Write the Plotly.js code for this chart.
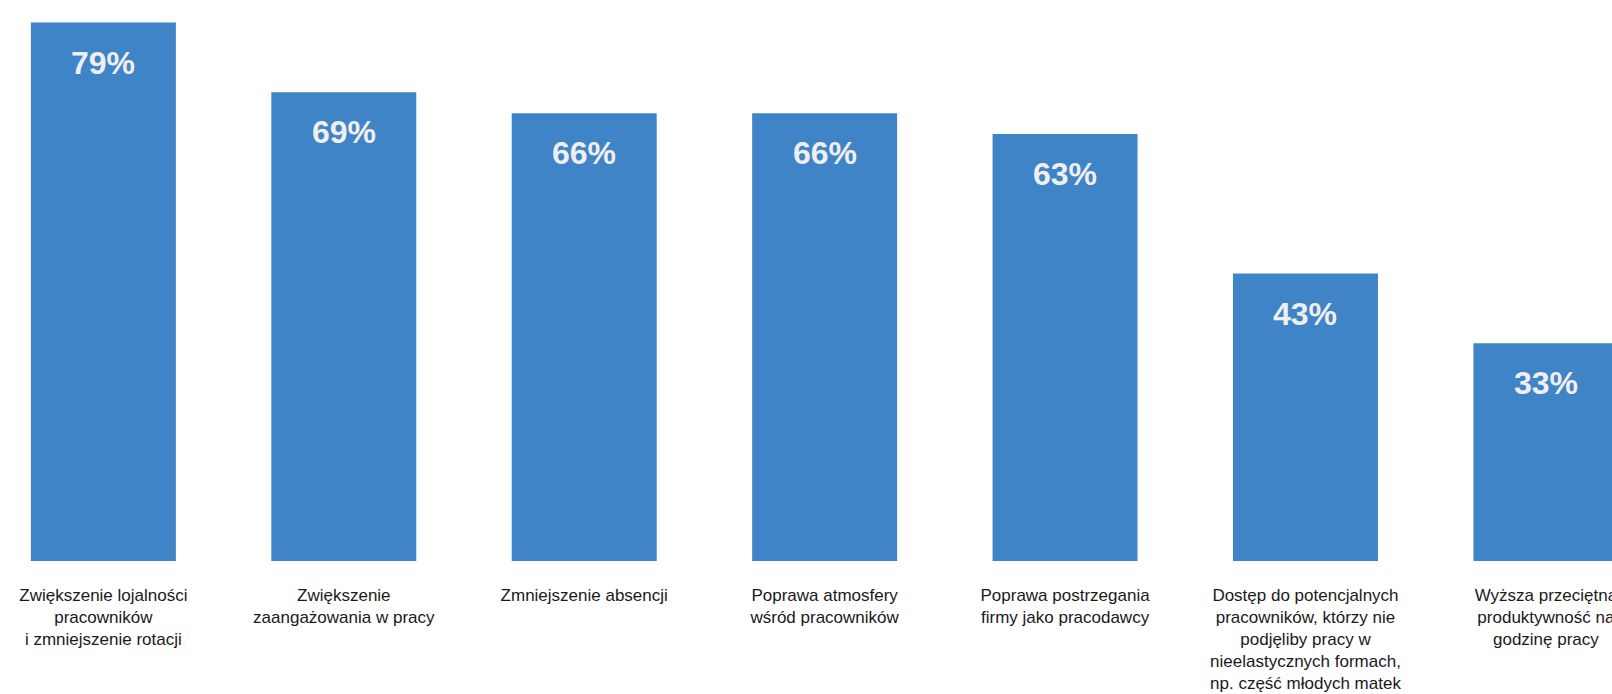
<!DOCTYPE html>
<html>
<head>
<meta charset="utf-8">
<script src="https://cdn.plot.ly/plotly-3.0.1.min.js"></script>
<style>
  html, body { margin: 0; padding: 0; background: #ffffff; }
  #chart { width: 1612px; height: 694px; }
</style>
</head>
<body>
<div id="chart"></div>
<script>
const categories = [
  "Zwiększenie lojalności<br>pracowników<br>i zmniejszenie rotacji",
  "Zwiększenie<br>zaangażowania w pracy",
  "Zmniejszenie absencji",
  "Poprawa atmosfery<br>wśród pracowników",
  "Poprawa postrzegania<br>firmy jako pracodawcy",
  "Dostęp do potencjalnych<br>pracowników, którzy nie<br>podjęliby pracy w<br>nieelastycznych formach,<br>np. część młodych matek",
  "Wyższa przeciętna<br>produktywność na<br>godzinę pracy"
];
const values = [79, 69, 66, 66, 63, 43, 33];
const valueLabels = values.map(v => v + "%");

const FONT = "Arial, 'Liberation Sans', sans-serif";
const BAR_COLOR = "#3F84C6";

const trace = {
  type: "bar",
  x: categories,
  y: values,
  marker: { color: BAR_COLOR, line: { width: 0 } },
  hoverinfo: "skip",
  showlegend: false
};

const annotations = categories.map((c, i) => ({
  x: c,
  y: values[i],
  xref: "x",
  yref: "y",
  text: "<b>" + valueLabels[i] + "</b>",
  showarrow: false,
  yanchor: "top",
  yshift: -20,
  font: { family: FONT, size: 32, color: "#EFEFEF" }
}));

const layout = {
  width: 1612,
  height: 694,
  margin: { l: 0, r: 0, t: 9, b: 133, pad: 0 },
  paper_bgcolor: "#FFFFFF",
  plot_bgcolor: "#FFFFFF",
  bargap: 0.397,
  xaxis: {
    type: "category",
    range: [-0.43, 6.275],
    showgrid: false,
    zeroline: false,
    showline: false,
    ticks: "",
    ticklabelstandoff: 22,
    tickfont: { family: FONT, size: 17, color: "#1A1A1A" },
    fixedrange: true
  },
  yaxis: {
    range: [1.77, 80.94],
    visible: false,
    showgrid: false,
    zeroline: false,
    fixedrange: true
  },
  annotations: annotations,
  showlegend: false
};

Plotly.newPlot("chart", [trace], layout, { displayModeBar: false, staticPlot: true });
</script>
</body>
</html>
